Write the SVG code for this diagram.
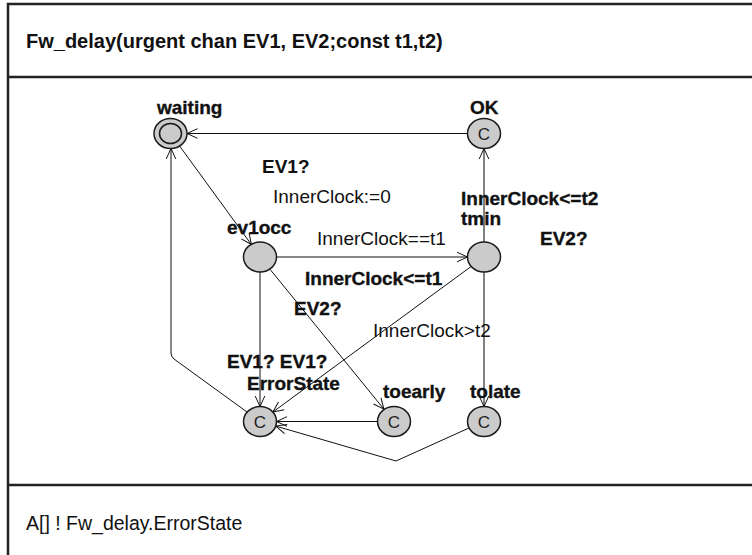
<svg xmlns="http://www.w3.org/2000/svg" width="752" height="555" viewBox="0 0 752 555">
  <style>
    text { font-family: "Liberation Sans", Arial, sans-serif; fill: #111; }
    .title { font-size: 20px; font-weight: bold; }
    .query { font-size: 19.5px; }
    .name { font-size: 19px; font-weight: bold; stroke: #111; stroke-width: 0.35; }
    .lbl { font-size: 19px; }
    .lblm { font-size: 19px; font-weight: bold; }
    .lblb { font-size: 19px; font-weight: bold; stroke: #111; stroke-width: 0.35; }
    .frame { fill: none; stroke: #222; stroke-width: 2.5; }
    .loc { fill: #cbcbcb; stroke: #1a1a1a; stroke-width: 1.5; }
    .c { font-size: 17px; fill: #222; text-anchor: middle; }
    .edge { fill: none; stroke: #111; stroke-width: 1; marker-end: url(#arr); }
    .edge-g { fill: none; stroke: #808080; stroke-width: 2; marker-end: url(#arr); }
  </style>
  <defs>
    <marker id="arr" viewBox="-12 -6 14 12" refX="0" refY="0" markerWidth="14" markerHeight="12" markerUnits="userSpaceOnUse" orient="auto">
      <path d="M-10.5,-4.8 L0,0 L-10.5,4.8" fill="none" stroke="#111" stroke-width="1"/>
    </marker>
  </defs>

  <!-- template frame -->
  <g id="frame">
    <path class="frame" d="M8,560 V4 H760"/>
    <line class="frame" x1="8" y1="77" x2="760" y2="77"/>
    <line class="frame" x1="8" y1="485" x2="760" y2="485"/>
    <text class="title" x="26" y="48">Fw_delay(urgent chan EV1, EV2;const t1,t2)</text>
    <text class="query" x="26" y="530">A[] ! Fw_delay.ErrorState</text>
  </g>

  <!-- transitions -->
  <g id="edges">
    <path class="edge" d="M179.6,146 L251.4,244.5"/>
    <path class="edge" d="M467.5,133.5 L187,133.5"/>
    <path class="edge" d="M277,257 L467.5,257"/>
    <path class="edge-g" d="M484,242 L484,148.5"/>
    <path class="edge-g" d="M484,272 L484,406.5"/>
    <path class="edge" d="M260,272 L260,406.5"/>
    <path class="edge" d="M471.1,266.5 L272.9,412"/>
    <path class="edge" d="M270.1,269.4 L383.9,409.1"/>
    <path class="edge" d="M377.5,421.5 L276.5,421.5"/>
    <path class="edge" d="M469,428 L396,461 L275.8,426.1"/>
    <path class="edge" d="M247,412 L174,359 Q171,356.5 171,353 L171,148.5"/>

    <text class="lblm" x="262" y="173">EV1?</text>
    <text class="lbl" x="273" y="203">InnerClock:=0</text>
    <text class="lbl" x="317" y="245">InnerClock==t1</text>
    <text class="lblb" x="461" y="205">InnerClock&lt;=t2</text>
    <text class="lblb" x="540" y="245">EV2?</text>
    <text class="lblb" x="305" y="285">InnerClock&lt;=t1</text>
    <text class="lblb" x="294" y="315">EV2?</text>
    <text class="lbl" x="373" y="337">InnerClock&gt;t2</text>
    <text class="lblb" x="227" y="368">EV1? EV1?</text>
  </g>

  <!-- locations -->
  <g id="waiting">
    <ellipse class="loc" cx="170.5" cy="133.5" rx="16.5" ry="15"/>
    <ellipse cx="170.5" cy="133.5" rx="11" ry="10" fill="none" stroke="#1a1a1a" stroke-width="1.5"/>
    <text class="name" x="157" y="114">waiting</text>
  </g>
  <g id="OK">
    <ellipse class="loc" cx="484" cy="133.5" rx="16.5" ry="15"/>
    <text class="c" x="484" y="139.5">C</text>
    <text class="name" x="470" y="114">OK</text>
  </g>
  <g id="ev1occ">
    <ellipse class="loc" cx="260" cy="257" rx="16.5" ry="15"/>
    <text class="name" x="227" y="234">ev1occ</text>
  </g>
  <g id="tmin">
    <ellipse class="loc" cx="484" cy="257" rx="16.5" ry="15"/>
    <text class="name" x="461" y="225">tmin</text>
  </g>
  <g id="ErrorState">
    <ellipse class="loc" cx="260" cy="421.5" rx="16.5" ry="15"/>
    <text class="c" x="260" y="427.5">C</text>
    <text class="name" x="247" y="390">ErrorState</text>
  </g>
  <g id="toearly">
    <ellipse class="loc" cx="394" cy="421.5" rx="16.5" ry="15"/>
    <text class="c" x="394" y="427.5">C</text>
    <text class="name" x="383" y="398">toearly</text>
  </g>
  <g id="tolate">
    <ellipse class="loc" cx="484" cy="421.5" rx="16.5" ry="15"/>
    <text class="c" x="484" y="427.5">C</text>
    <text class="name" x="470" y="398">tolate</text>
  </g>
</svg>
